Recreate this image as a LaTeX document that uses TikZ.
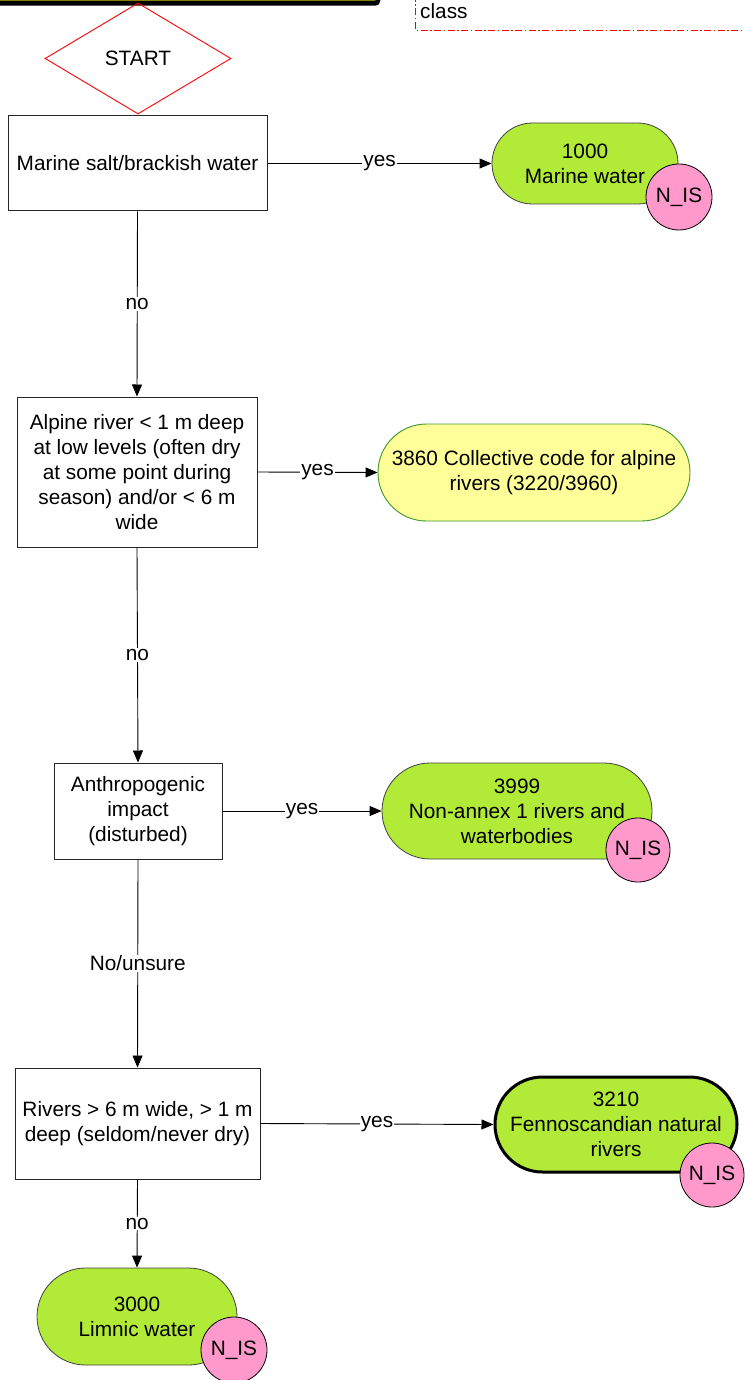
\documentclass[tikz,border=0pt]{standalone}
\usepackage{fontspec}
\setmainfont{Liberation Sans}
\usetikzlibrary{shapes.geometric,arrows.meta}
\definecolor{leafgreen}{RGB}{178,234,56}
\definecolor{paleyellow}{RGB}{255,255,153}
\definecolor{edgegreen}{RGB}{60,150,40}
\definecolor{tagpink}{RGB}{255,153,204}
\definecolor{barolive}{RGB}{128,128,0}
\begin{document}
\begin{tikzpicture}[x=1pt,y=-1pt,
  font=\fontsize{20.8}{25}\selectfont,
  every node/.style={inner sep=0pt, align=center},
  question/.style={draw=black!85, line width=1pt, fill=white},
  startbox/.style={draw=red, line width=0.9pt, diamond, aspect=1.676,
                   minimum width=186pt, minimum height=111pt},
  habitat/.style={draw=black!75, line width=0.8pt, fill=leafgreen},
  collective/.style={draw=edgegreen, line width=0.9pt, fill=paleyellow},
  tag/.style={circle, draw=black, line width=0.8pt, fill=tagpink, minimum size=#1},
  flow/.style={line width=0.9pt, -{Triangle[length=12pt,width=10pt]}},
  answer/.style={fill=white, inner sep=1pt}
]
\useasboundingbox (0,0) rectangle (744,1380);

% header elements running off the page
\begin{scope}
  \clip (0,0) rectangle (744,1380);
  \draw[line width=4.5pt, fill=barolive, rounded corners=3pt] (-20,-60) rectangle (378,3.5);
  \draw[red, line width=0.7pt, dash pattern=on 7pt off 2.5pt on 1.5pt off 2.5pt]
    (900,30) -- (415,30) -- (415,-10);
  \node[anchor=west] (classlbl) at (420,11) {class};
\end{scope}

% start
\node[startbox] (start) at (138,58.5) {START};

% questions
\node[question, minimum width=259pt, minimum height=95pt] (q1) at (137.5,163.5)
  {Marine salt/brackish water};
\node[question, minimum width=240pt, minimum height=150pt] (q2) at (137,472)
  {Alpine river < 1 m deep\\at low levels (often dry\\at some point during\\season) and/or < 6 m\\wide};
\node[question, minimum width=168pt, minimum height=96pt] (q3) at (138,811)
  {Anthropogenic\\impact\\(disturbed)};
\node[question, minimum width=245pt, minimum height=111pt] (q4) at (137.5,1123.5)
  {Rivers > 6 m wide, > 1 m\\deep (seldom/never dry)};

% outcomes
\node[habitat, minimum width=186pt, minimum height=81pt, rounded corners=40.5pt] (h1000) at (585,163.5)
  {1000\\Marine water};
\node[collective, minimum width=312pt, minimum height=97pt, rounded corners=48.5pt] (h3860) at (534,472.5)
  {3860 Collective code for alpine\\rivers (3220/3960)};
\node[habitat, minimum width=270pt, minimum height=96pt, rounded corners=48pt] (h3999) at (517,811)
  {3999\\Non-annex 1 rivers and\\waterbodies};
\node[habitat, draw=black, line width=3pt, minimum width=242pt, minimum height=95pt, rounded corners=47.5pt] (h3210) at (616,1124.5)
  {3210\\Fennoscandian natural\\rivers};
\node[habitat, minimum width=200pt, minimum height=97pt, rounded corners=48.5pt] (h3000) at (137,1316.5)
  {3000\\Limnic water};

% N_IS tags
\node[tag=66pt] (t1000) at (679,197) {N\_IS};
\node[tag=64pt] (t3999) at (638,850) {N\_IS};
\node[tag=64pt] (t3210) at (712,1175) {N\_IS};
\node[tag=66pt] (t3000) at (234,1350) {N\_IS};

% connectors
\draw[flow] (q1.east) -- node[answer] {yes} (h1000.west);
\draw[flow] (q1.south) -- node[answer] {no} (q2.north);
\draw[flow] (q2.east) -- node[answer] {yes} (h3860.west);
\draw[flow] (q2.south) -- node[answer] {no} (q3.north);
\draw[flow] (q3.east) -- node[answer] {yes} (h3999.west);
\draw[flow] (q3.south) -- node[answer] {No/unsure} (q4.north);
\draw[flow] (q4.east) -- node[answer] {yes} (h3210.west);
\draw[flow] (q4.south) -- node[answer] {no} (h3000.north);
\end{tikzpicture}
\end{document}
